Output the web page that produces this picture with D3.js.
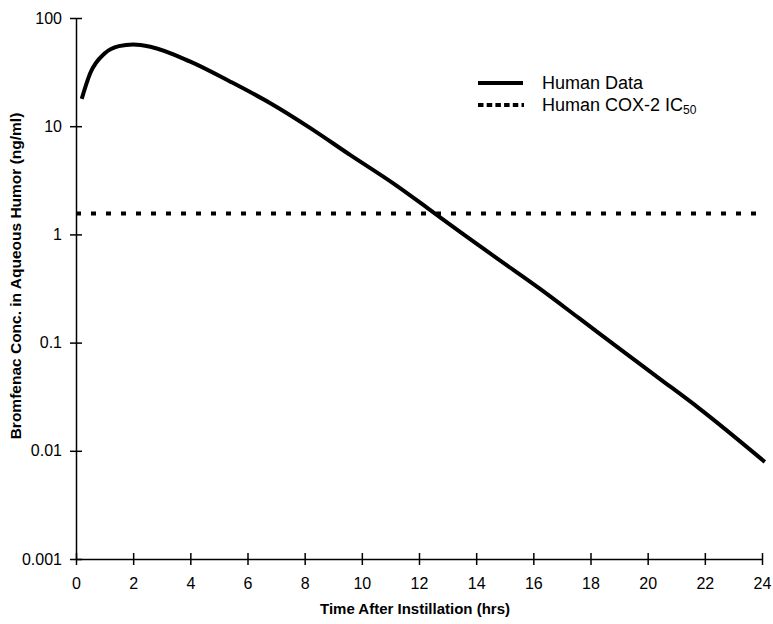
<!DOCTYPE html>
<html>
<head>
<meta charset="utf-8">
<script src="https://cdn.jsdelivr.net/npm/d3@7"></script>
<style>
  body { margin: 0; background: #fff; }
  text { font-family: Arial, "Liberation Sans", sans-serif; fill: #000; }
</style>
</head>
<body>
<script>
// Data
const times = [0.2, 0.5, 1, 1.5, 2, 2.6, 4, 5.4, 6.8, 8.2, 9.6, 11.1, 12.3, 13.4, 15.3, 16.2, 17.6, 19, 20.4, 21.8, 24.1];
const conc = [17.9, 31, 47, 55, 57, 54.3, 39.5, 25.8, 16.3, 9.6, 5.4, 2.96, 1.75, 1.07, 0.47, 0.318, 0.168, 0.0885, 0.0468, 0.0247, 0.0079];
const ic50 = 1.56;
const xTicks = [0, 2, 4, 6, 8, 10, 12, 14, 16, 18, 20, 22, 24];
const yTicks = [0.001, 0.01, 0.1, 1, 10, 100];
const yTickLabels = ["0.001", "0.01", "0.1", "1", "10", "100"];

// Dimensions
const W = 773, H = 624;
const margin = { top: 18, right: 11, bottom: 65, left: 76 };
const width = W - margin.left - margin.right;
const height = H - margin.top - margin.bottom;

const svg = d3.select("body")
    .append("svg")
    .attr("width", W)
    .attr("height", H);

const g = svg.append("g")
    .attr("transform", `translate(${margin.left},${margin.top})`);

const x = d3.scaleLinear().domain([0, 24]).range([0, width]);
const y = d3.scaleLog().domain([0.001, 100]).range([height, 0]);

// Axes (ticks cross the axis line)
const xAxis = g.append("g")
    .attr("transform", `translate(0,${height})`)
    .call(d3.axisBottom(x).tickValues(xTicks).tickSize(6).tickSizeOuter(0));
xAxis.selectAll(".tick line").attr("y1", -6).attr("stroke-width", 1.5);
xAxis.select(".domain").attr("stroke-width", 1.5);
xAxis.selectAll(".tick text")
    .attr("y", 19)
    .attr("font-size", 16)
    .attr("font-family", "Arial, 'Liberation Sans', sans-serif");

const yAxis = g.append("g")
    .call(d3.axisLeft(y).tickValues(yTicks).tickFormat((d, i) => yTickLabels[i]).tickSize(6).tickSizeOuter(0));
yAxis.selectAll(".tick line").attr("x1", 6).attr("stroke-width", 1.5);
yAxis.select(".domain").attr("stroke-width", 1.5);
yAxis.selectAll(".tick text")
    .attr("x", -14)
    .attr("font-size", 16)
    .attr("font-family", "Arial, 'Liberation Sans', sans-serif");

// IC50 line
g.append("line")
    .attr("x1", x(0)).attr("x2", x(24))
    .attr("y1", y(ic50)).attr("y2", y(ic50))
    .attr("stroke", "#000")
    .attr("stroke-width", 4)
    .attr("stroke-dasharray", "5,10");

// Concentration curve
const pts = times.map((t, i) => [t, conc[i]]);
const line = d3.line()
    .x(d => x(d[0]))
    .y(d => y(d[1]))
    .curve(d3.curveMonotoneX);

g.append("path")
    .datum(pts)
    .attr("fill", "none")
    .attr("stroke", "#000")
    .attr("stroke-width", 4)
    .attr("stroke-linejoin", "round")
    .attr("d", line);

// Legend
const leg = svg.append("g");
leg.append("line")
    .attr("x1", 478).attr("x2", 523).attr("y1", 83).attr("y2", 83)
    .attr("stroke", "#000").attr("stroke-width", 4);
leg.append("text")
    .attr("x", 542).attr("y", 89)
    .attr("font-size", 18)
    .text("Human Data");
leg.append("line")
    .attr("x1", 478).attr("x2", 524).attr("y1", 105).attr("y2", 105)
    .attr("stroke", "#000").attr("stroke-width", 4)
    .attr("stroke-dasharray", "5.5,3.2");
const t2 = leg.append("text")
    .attr("x", 542).attr("y", 111)
    .attr("font-size", 18);
t2.append("tspan").text("Human COX-2 IC");
t2.append("tspan").attr("font-size", 12).attr("dy", 3).text("50");

// Axis titles
svg.append("text")
    .attr("x", margin.left + width / 2 - 4)
    .attr("y", 614)
    .attr("text-anchor", "middle")
    .attr("font-size", 15)
    .attr("font-weight", "bold")
    .text("Time After Instillation (hrs)");

svg.append("text")
    .attr("transform", `translate(21,276) rotate(-90)`)
    .attr("text-anchor", "middle")
    .attr("font-size", 15.5)
    .attr("font-weight", "bold")
    .text("Bromfenac Conc. in Aqueous Humor (ng/ml)");
</script>
</body>
</html>
